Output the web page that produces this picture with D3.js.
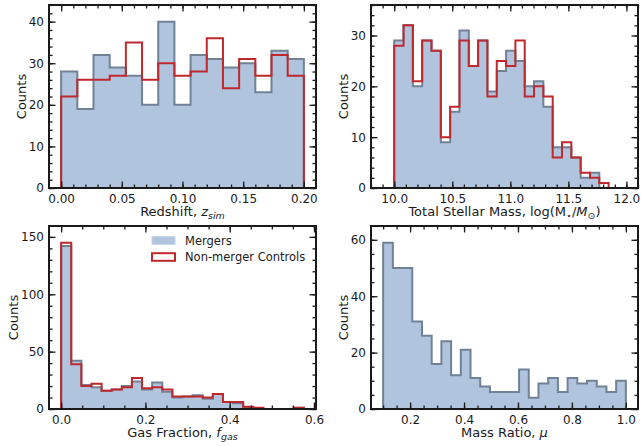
<!DOCTYPE html>
<html>
<head>
<meta charset="utf-8">
<script src="https://cdn.jsdelivr.net/npm/d3@7"></script>
<style>
  body { margin: 0; background: #fff; }
  svg { display: block; font-family: "DejaVu Sans", sans-serif; }
</style>
</head>
<body>
<svg id="fig" width="641" height="446"></svg>
<script>
// --- data ---
// redshift histogram: 15 bins from 0 to 0.2
const zBinStart = 0, zBinWidth = 0.2 / 15;
const zMergers  = [28, 19, 32, 29, 27, 20, 40, 20, 32, 31, 29, 30, 23, 33, 31];
const zControls = [22, 26, 26, 27, 35, 26, 30, 27, 28, 36, 24, 31, 27, 32, 27];
const zTicks = [0, 0.05, 0.10, 0.15, 0.20];

// stellar mass histogram
const massBinStart = 10.0, massBinWidth = 0.0803;
const massMergers  = [29, 32, 20, 29, 27, 9, 15, 31, 24, 29, 19, 23, 27, 25, 20, 21, 16, 8, 8, 6, 2, 3];
const massControls = [28, 32, 21, 29, 27, 10, 16, 29, 24, 29, 18, 25, 24, 29, 18, 20, 18, 6, 9, 6, 3, 2, 1];
const massTicks = [10.0, 10.5, 11.0, 11.5, 12.0];

// gas fraction histogram
const gasBinStart = 0, gasBinWidth = 0.024;
const gasMergers  = [142, 42, 21, 19, 16, 17, 20, 24, 17, 23, 15, 10, 11, 12, 9, 13, 6, 5, 1, 0, 0, 0, 0, 1];
const gasControls = [145, 39, 20, 22, 16, 17, 19, 27, 18, 19, 17, 11, 11, 11, 10, 13, 6, 6, 2, 1, 0, 0, 0, 1];
const gasTicks = [0, 0.2, 0.4, 0.6];

// mass ratio histogram (mergers only)
const ratioBinStart = 0.1, ratioBinWidth = 0.036;
const ratioMergers = [59, 50, 50, 31, 26, 16, 24, 12, 21, 11, 8, 6, 6, 6, 14, 4, 9, 11, 6, 11, 9, 10, 8, 6, 10];
const ratioTicks = [0.2, 0.4, 0.6, 0.8, 1.0];

const legendLabels = ["Mergers", "Non-merger Controls"];

const fillBlue = "#b0c4de", edgeGray = "#718296", red = "#c0282d", ink = "#1a1a1a";

const svg = d3.select("#fig");

// build the outline of a histogram from bin start, width and counts
function stepPoints(start, width, counts, x, y) {
  const pts = [[x(start), y(0)]];
  counts.forEach((c, i) => {
    pts.push([x(start + i * width), y(c)]);
    pts.push([x(start + (i + 1) * width), y(c)]);
  });
  pts.push([x(start + counts.length * width), y(0)]);
  return pts;
}

function range(a, b, step) {
  const out = [];
  for (let v = a; v <= b + 1e-9; v += step) out.push(+v.toFixed(6));
  return out;
}

function panel(cfg) {
  const w = cfg.right - cfg.left, h = cfg.bottom - cfg.top;
  const g = svg.append("g").attr("transform", `translate(${cfg.left},${cfg.top})`);
  const x = d3.scaleLinear().domain(cfg.xDomain).range([0, w]);
  const y = d3.scaleLinear().domain(cfg.yDomain).range([h, 0]);

  const clip = "clip" + cfg.id;
  g.append("clipPath").attr("id", clip).append("rect").attr("width", w).attr("height", h);
  const plot = g.append("g").attr("clip-path", `url(#${clip})`);

  const line = d3.line();
  cfg.series.forEach(s => {
    const pts = stepPoints(s.start, s.width, s.counts, x, y);
    if (s.filled) {
      plot.append("path").attr("d", line(pts) + "Z")
        .attr("fill", fillBlue).attr("stroke", edgeGray)
        .attr("stroke-width", 2).attr("stroke-linejoin", "miter");
    } else {
      plot.append("path").attr("d", line(pts))
        .attr("fill", "none").attr("stroke", red)
        .attr("stroke-width", 2).attr("stroke-linejoin", "miter");
    }
  });

  // ticks, all pointing inward, on every side
  const xMinor = range(cfg.xMinor[0], cfg.xMinor[1], cfg.xMinor[2]).filter(v => v >= cfg.xDomain[0] && v <= cfg.xDomain[1]);
  const yMinor = range(cfg.yDomain[0], cfg.yDomain[1], cfg.yMinor);
  const tickStyle = sel => {
    sel.select(".domain").remove();
    sel.selectAll("line").attr("stroke", ink).attr("stroke-width", 1.3);
    sel.selectAll("text").attr("fill", ink).style("font-size", "12px").style("font-family", "DejaVu Sans");
  };
  const fmtX = d3.format(cfg.xFormat);

  g.append("g").attr("transform", `translate(0,${h})`)
    .call(d3.axisBottom(x).tickValues(xMinor).tickSize(-3.5).tickFormat("")).call(tickStyle);
  g.append("g").attr("transform", `translate(0,${h})`)
    .call(d3.axisBottom(x).tickValues(cfg.xTicks).tickSize(-6.5).tickPadding(6).tickFormat(fmtX)).call(tickStyle);
  g.append("g")
    .call(d3.axisTop(x).tickValues(xMinor).tickSize(-3.5).tickFormat("")).call(tickStyle);
  g.append("g")
    .call(d3.axisTop(x).tickValues(cfg.xTicks).tickSize(-6.5).tickFormat("")).call(tickStyle);

  g.append("g")
    .call(d3.axisLeft(y).tickValues(yMinor).tickSize(-3.5).tickFormat("")).call(tickStyle);
  g.append("g")
    .call(d3.axisLeft(y).tickValues(cfg.yTicks).tickSize(-6.5).tickPadding(5).tickFormat(d3.format("d"))).call(tickStyle);
  g.append("g").attr("transform", `translate(${w},0)`)
    .call(d3.axisRight(y).tickValues(yMinor).tickSize(-3.5).tickFormat("")).call(tickStyle);
  g.append("g").attr("transform", `translate(${w},0)`)
    .call(d3.axisRight(y).tickValues(cfg.yTicks).tickSize(-6.5).tickFormat("")).call(tickStyle);

  // frame
  g.append("rect").attr("width", w).attr("height", h)
    .attr("fill", "none").attr("stroke", ink).attr("stroke-width", 2);

  // axis labels
  g.append("text")
    .attr("transform", `translate(${cfg.yLabelX},${h / 2}) rotate(-90)`)
    .attr("text-anchor", "middle").attr("dy", "0.36em")
    .attr("fill", ink).style("font-size", "13px")
    .text("Counts");

  const xl = g.append("text")
    .attr("x", w / 2).attr("y", h + 27.5)
    .attr("text-anchor", "middle").attr("fill", ink).style("font-size", "13px");
  let shift = 0;
  cfg.xLabel.forEach(part => {
    const t = xl.append("tspan").text(part.t);
    if (part.i) t.style("font-style", "italic");
    const want = part.sub ? 3 : 0;
    if (want !== shift) { t.attr("dy", want - shift); shift = want; }
    if (part.sub) t.style("font-size", "9.5px");
  });

  return { g, x, y, w, h };
}

panel({
  id: 1, left: 49, top: 5, right: 316, bottom: 188,
  xDomain: [-0.01, 0.21], yDomain: [0, 44],
  xTicks: zTicks, xMinor: [0, 0.2, 0.01], xFormat: ".2f",
  yTicks: [0, 10, 20, 30, 40], yMinor: 2, yLabelX: -27.3,
  series: [
    { start: zBinStart, width: zBinWidth, counts: zMergers, filled: true },
    { start: zBinStart, width: zBinWidth, counts: zControls, filled: false }
  ],
  xLabel: [{ t: "Redshift, " }, { t: "z", i: true }, { t: "sim", i: true, sub: true }]
});

panel({
  id: 2, left: 371, top: 5, right: 638, bottom: 188,
  xDomain: [9.8, 12.1], yDomain: [0, 36],
  xTicks: massTicks, xMinor: [9.8, 12.1, 0.1], xFormat: ".1f",
  yTicks: [0, 10, 20, 30], yMinor: 2, yLabelX: -27.7,
  series: [
    { start: massBinStart, width: massBinWidth, counts: massMergers, filled: true },
    { start: massBinStart, width: massBinWidth, counts: massControls, filled: false }
  ],
  xLabel: [{ t: "Total Stellar Mass, log(M" }, { t: "\u22C6", sub: true }, { t: "/" },
           { t: "M", i: true }, { t: "\u2299", sub: true }, { t: ")" }]
});

const p3 = panel({
  id: 3, left: 49, top: 226, right: 316, bottom: 409,
  xDomain: [-0.0288, 0.6048], yDomain: [0, 159.5],
  xTicks: gasTicks, xMinor: [0, 0.6, 0.05], xFormat: ".1f",
  yTicks: [0, 50, 100, 150], yMinor: 10, yLabelX: -35.7,
  series: [
    { start: gasBinStart, width: gasBinWidth, counts: gasMergers, filled: true },
    { start: gasBinStart, width: gasBinWidth, counts: gasControls, filled: false }
  ],
  xLabel: [{ t: "Gas Fraction, " }, { t: "f", i: true }, { t: "gas", i: true, sub: true }]
});

panel({
  id: 4, left: 371, top: 226, right: 638, bottom: 409,
  xDomain: [0.055, 1.045], yDomain: [0, 64.9],
  xTicks: ratioTicks, xMinor: [0.05, 1.05, 0.05], xFormat: ".1f",
  yTicks: [0, 20, 40, 60], yMinor: 5, yLabelX: -28,
  series: [
    { start: ratioBinStart, width: ratioBinWidth, counts: ratioMergers, filled: true }
  ],
  xLabel: [{ t: "Mass Ratio, " }, { t: "\u03BC", i: true }]
});

// legend in the gas fraction panel
const leg = p3.g.append("g").attr("transform", "translate(103,14.5)");
legendLabels.forEach((lab, i) => {
  const row = leg.append("g").attr("transform", `translate(0,${i * 16.5})`);
  row.append("rect").attr("x", 0).attr("y", -3.8).attr("width", 23).attr("height", 7.6)
    .attr("fill", i === 0 ? fillBlue : "#fff")
    .attr("stroke", i === 0 ? "#c3d2e6" : red).attr("stroke-width", i === 0 ? 1 : 2);
  row.append("text").attr("x", 33).attr("dy", "0.36em")
    .attr("fill", ink).style("font-size", "11.5px").text(lab);
});
</script>
</body>
</html>
